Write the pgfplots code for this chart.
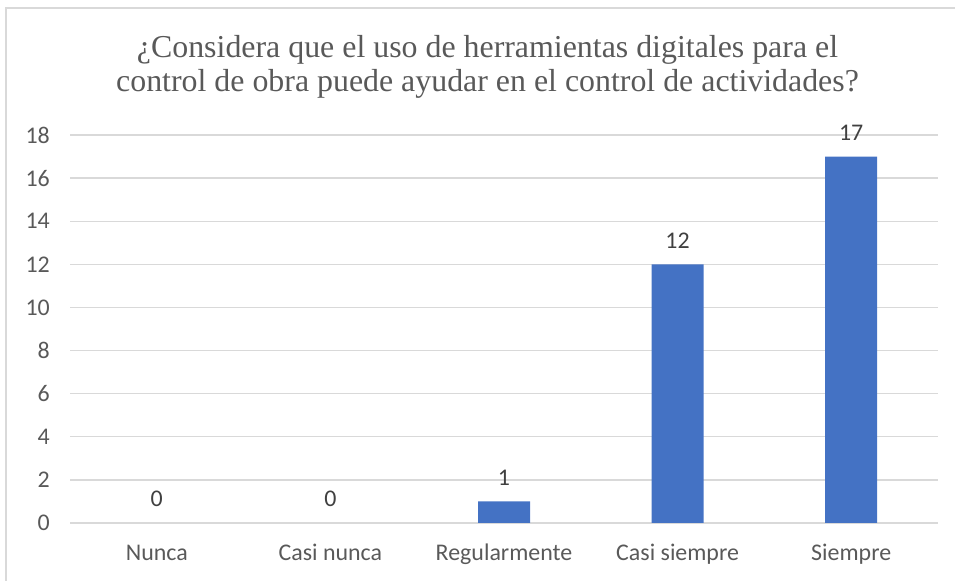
\documentclass[border=0pt]{standalone}
\usepackage{fontspec}
\setmainfont{Liberation Serif}
\newfontfamily\calibri{Carlito}
\usepackage{pgfplots}
\pgfplotsset{compat=1.18}
\definecolor{barblue}{HTML}{4472C4}
\definecolor{gridgray}{HTML}{D9D9D9}
\definecolor{txtgray}{HTML}{595959}
\definecolor{lblgray}{HTML}{404040}
\begin{document}
\begin{tikzpicture}[x=1bp,y=1bp]
\path[use as bounding box] (0,0) rectangle (955,581);
\draw[gridgray, line width=2bp] (6,0) -- (6,573) -- (955,573);
\node[txtgray, font=\fontsize{32}{34}\selectfont, anchor=base, inner sep=0] at (487.5,523) {¿Considera que el uso de herramientas digitales para el};
\node[txtgray, font=\fontsize{32}{34}\selectfont, anchor=base, inner sep=0] at (487.5,489) {control de obra puede ayudar en el control de actividades?};
\begin{axis}[at={(70bp,58bp)}, anchor=south west, width=868bp, height=388bp, scale only axis,
 ymin=0, ymax=18, xmin=-0.5, xmax=4.5, ytick={0,2,...,18}, xtick={0,...,4},
 xticklabels={Nunca,Casi nunca,Regularmente,Casi siempre,Siempre},
 axis line style={draw=none}, ymajorgrids, grid style={gridgray, line width=1.3bp},
 major tick length=0,
 /pgf/number format/assume math mode=true,
 ticklabel style={font=\calibri\fontsize{24}{28}\selectfont, text=txtgray, inner sep=0},
 yticklabel style={anchor=east, xshift=-20bp},
 xticklabel style={anchor=north, text height=15bp, text depth=5bp, yshift=-22bp},
 ybar, bar width=52bp, bar shift=0pt,
 nodes near coords,
 every node near coord/.append style={font=\calibri\fontsize{24}{28}\selectfont, text=lblgray, inner sep=0, anchor=south, yshift=16bp},
]
\addplot[fill=none, draw=none] coordinates {(0,0) (1,0)};
\addplot[fill=barblue, draw=none] coordinates {(2,1) (3,12) (4,17)};
\end{axis}
\end{tikzpicture}
\end{document}
